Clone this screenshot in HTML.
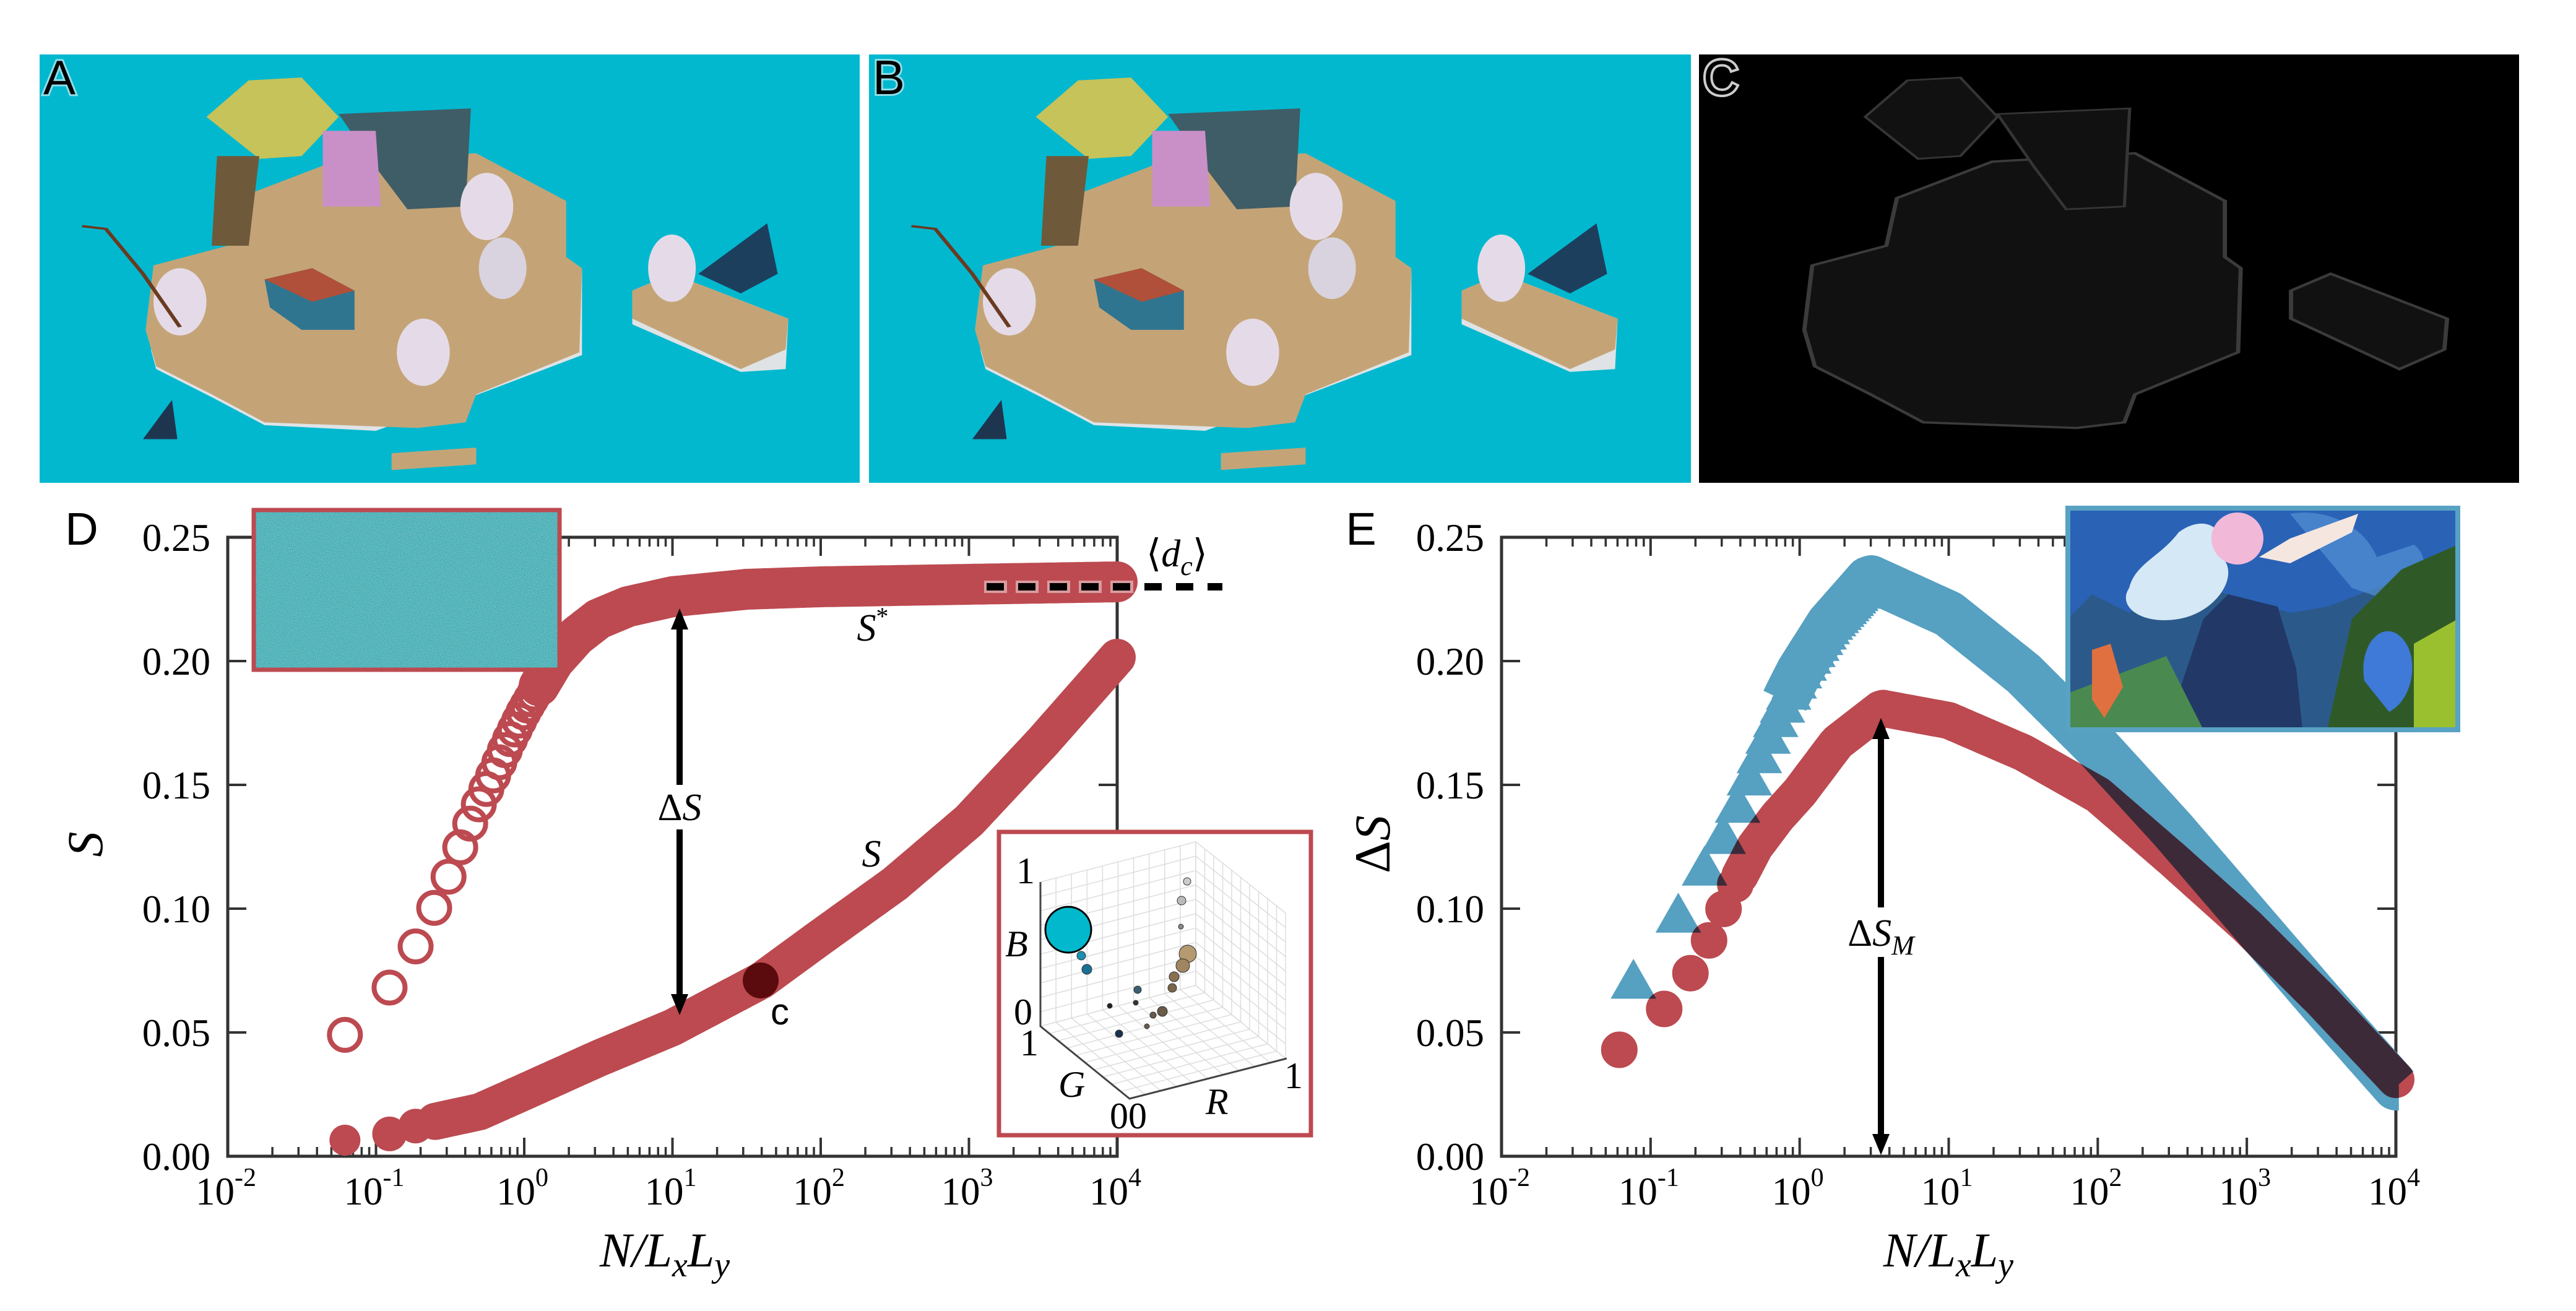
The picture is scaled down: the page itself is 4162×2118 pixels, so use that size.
<!DOCTYPE html>
<html><head><meta charset="utf-8">
<style>
html,body{margin:0;padding:0;background:#fff;}
svg{display:block;}
.tk{font-family:"Liberation Serif",serif;font-size:63px;fill:#000;}
.it{font-family:"Liberation Serif",serif;font-style:italic;fill:#000;}
.sans{font-family:"Liberation Sans",sans-serif;fill:#000;}
</style></head>
<body>
<svg id="s" xmlns="http://www.w3.org/2000/svg" width="4162" height="2118" viewBox="0 0 4162 2118">
<defs>
<filter id="nz" x="0" y="0" width="100%" height="100%">
<feTurbulence type="fractalNoise" baseFrequency="1.2" numOctaves="1" seed="3"/>
<feColorMatrix type="matrix" values="0 0 0 0 0.55  0 0 0 0 0.6  0 0 0 0 0.5  0 0 0 -2.5 1.6"/>
</filter>
</defs>
<!-- Panel A -->
<rect x="64" y="88" width="1325" height="692" fill="#02b8cf"/>
<g id="scene" transform="translate(60,80) scale(0.8547,0.4529)">
<polygon points="215,1070 225,1140 330,1240 430,1340 640,1360 820,1240 1030,1090 1030,790 950,740" fill="#dfe3e6"/>
<polygon points="205,1000 220,770 360,700 380,530 560,400 830,370 1000,540 1000,740 1030,780 1025,1080 830,1230 810,1330 720,1350 430,1330 330,1230 225,1130" fill="#c4a477"/>
<polygon points="1125,860 1200,800 1420,960 1415,1140 1330,1150 1125,980" fill="#dfe3e6"/>
<polygon points="1125,860 1200,800 1420,960 1415,1070 1330,1140 1125,960" fill="#c4a477"/>
<polygon points="320,240 400,110 500,100 570,240 500,380 420,390" fill="#c6c35a"/>
<polygon points="340,380 420,380 400,700 330,700" fill="#6e5a3a"/>
<polygon points="570,230 820,210 810,560 700,570 640,420" fill="#3f5d66"/>
<polygon points="430,820 520,780 600,860 600,1000 500,1000 440,920" fill="#2f7590"/>
<polygon points="430,820 520,780 600,860 520,900" fill="#b0503a"/>
<polygon points="540,290 640,290 650,560 540,560" fill="#c990c8"/>
<ellipse cx="850" cy="560" rx="50" ry="120" fill="#e5dbe8"/>
<ellipse cx="270" cy="900" rx="50" ry="120" fill="#e5dbe8"/>
<ellipse cx="730" cy="1080" rx="50" ry="120" fill="#e5dbe8"/>
<ellipse cx="880" cy="780" rx="45" ry="110" fill="#d9d3e0"/>
<ellipse cx="1200" cy="780" rx="45" ry="120" fill="#e5dbe8"/>
<polygon points="1250,800 1380,620 1400,800 1330,870" fill="#1d3f5e"/>
<polygon points="200,1390 255,1250 265,1390" fill="#1e3550"/>
<polygon points="670,1440 830,1420 830,1480 670,1500" fill="#c4a477"/>
<polyline points="85,630 130,640 200,800 270,990" fill="none" stroke="#6a3a20" stroke-width="8"/>
</g>
<text x="70" y="152" class="sans" font-size="78" stroke="#8fdde8" stroke-width="6" paint-order="stroke">A</text>
<!-- Panel B -->
<rect x="1404" y="88" width="1328" height="692" fill="#02b8cf"/>
<g transform="translate(1340,0)"><use href="#scene"/></g>
<text x="1410" y="152" class="sans" font-size="78" stroke="#8fdde8" stroke-width="6" paint-order="stroke">B</text>
<!-- Panel C -->
<rect x="2745" y="88" width="1325" height="692" fill="#000"/>
<g transform="translate(2680,0)" opacity="0.35"><g transform="translate(60,80) scale(0.8547,0.4529)">
<polygon points="205,1000 220,770 360,700 380,530 560,400 830,370 1000,540 1000,740 1030,780 1025,1080 830,1230 810,1330 720,1350 430,1330 330,1230 225,1130" fill="#333" stroke="#aaa" stroke-width="8"/>
<polygon points="1125,860 1200,800 1420,960 1415,1070 1330,1140 1125,960" fill="#333" stroke="#aaa" stroke-width="8"/>
<polygon points="320,240 400,110 500,100 570,240 500,380 420,390" fill="#333" stroke="#999" stroke-width="6"/>
<polygon points="570,230 820,210 810,560 700,570 640,420" fill="#333" stroke="#999" stroke-width="6"/>
</g></g>
<text x="2752" y="152" class="sans" font-size="78" fill="#000" stroke="#ccc" stroke-width="8" paint-order="stroke">C</text>
<g id="plots"></g>
</svg>
<script>
(function(){
var root=document.getElementById("plots");
var out=[];
function interp(t,x){if(x<=t[0][0])return t[0][1];for(var i=1;i<t.length;i++){if(x<=t[i][0]){var a=t[i-1],b=t[i];return a[1]+(b[1]-a[1])*(x-a[0])/(b[0]-a[0]);}}return t[t.length-1][1];}
var RED="#bc4a50",BLUE="#56a0c2",DARK="#3d2a39";
var DL=368,DR=1805,T=868,B=1868;
function XD(l){return DL+(l+2)*(DR-DL)/6;}
function Y(s){return B-s*4000;}
function axes(L,R){
 var s='';
 for(var d=-2;d<=4;d++){
  var x=L+(d+2)*(R-L)/6;
  s+='<line x1="'+x+'" y1="'+B+'" x2="'+x+'" y2="'+(B-30)+'" stroke="#333" stroke-width="4"/>';
  s+='<line x1="'+x+'" y1="'+T+'" x2="'+x+'" y2="'+(T+30)+'" stroke="#333" stroke-width="4"/>';
  if(d<4)for(var m=2;m<=9;m++){var xm=x+Math.log10(m)*(R-L)/6;
   s+='<line x1="'+xm+'" y1="'+B+'" x2="'+xm+'" y2="'+(B-15)+'" stroke="#333" stroke-width="3.5"/>';
   s+='<line x1="'+xm+'" y1="'+T+'" x2="'+xm+'" y2="'+(T+15)+'" stroke="#333" stroke-width="3.5"/>';}
  s+='<text class="tk" x="'+(x-3)+'" y="1946" text-anchor="middle">10<tspan font-size="42" dy="-30">'+(d<0?'-'+(-d):d)+'</tspan></text>';
 }
 for(var i=0;i<=5;i++){var y=B-i*200;
  s+='<line x1="'+L+'" y1="'+y+'" x2="'+(L+30)+'" y2="'+y+'" stroke="#333" stroke-width="4"/>';
  s+='<line x1="'+R+'" y1="'+y+'" x2="'+(R-30)+'" y2="'+y+'" stroke="#333" stroke-width="4"/>';
  s+='<text class="tk" x="'+(L-28)+'" y="'+(y+22)+'" text-anchor="end">'+(i*0.05).toFixed(2)+'</text>';}
 s+='<rect x="'+L+'" y="'+T+'" width="'+(R-L)+'" height="'+(B-T)+'" fill="none" stroke="#333" stroke-width="5"/>';
 return s;
}
out.push(axes(DL,DR));
var SS=[[-1.21,0.049],[-0.91,0.068],[-0.73,0.085],[-0.61,0.10],[-0.51,0.113],[-0.43,0.125],[-0.36,0.135],[-0.3,0.143],[-0.2,0.155],[-0.1,0.168],[0,0.18],[0.1,0.19],[0.2,0.2],[0.35,0.21],[0.5,0.217],[0.7,0.222],[1,0.226],[1.5,0.229],[2,0.23],[3,0.231],[4,0.232]];
var S=[[-1.21,0.0065],[-0.91,0.009],[-0.7,0.0128],[-0.3,0.018],[0,0.026],[0.5,0.0395],[1,0.052],[1.6,0.071],[2,0.0885],[2.5,0.11],[3,0.1355],[3.5,0.1675],[4,0.2015]];
var g='';
for(var k=1;k<=120;k++){var l=Math.log10(k*0.0617);if(l>0.35)break;
 g+='<circle cx="'+XD(l).toFixed(1)+'" cy="'+Y(interp(SS,l)).toFixed(1)+'" r="25" fill="none" stroke="'+RED+'" stroke-width="8"/>';}
function band(tab,l0,l1,X){var p='';for(var l=l0;l<=l1+1e-9;l+=0.02){p+=(p?'L':'M')+X(l).toFixed(1)+','+Y(interp(tab,l)).toFixed(1);}return p;}
g+='<path d="'+band(SS,0.1,4,XD)+'" fill="none" stroke="'+RED+'" stroke-width="66" stroke-linecap="round" stroke-linejoin="round"/>';
for(var k=1;k<=40;k++){var l=Math.log10(k*0.0617);
 g+='<circle cx="'+XD(l).toFixed(1)+'" cy="'+Y(interp(S,l)).toFixed(1)+'" r="'+(k==1?25:28)+'" fill="'+RED+'"/>';}
g+='<path d="'+band(S,-0.6,4,XD)+'" fill="none" stroke="'+RED+'" stroke-width="60" stroke-linecap="round" stroke-linejoin="round"/>';
out.push(g);
out.push('<circle cx="1229" cy="1584" r="29" fill="#5b0b0e"/>');
out.push('<text x="1245" y="1655" class="sans" font-size="60">c</text>');
out.push('<line x1="1590" y1="948" x2="1975" y2="948" stroke="#fff" stroke-opacity="0.45" stroke-width="20" stroke-dasharray="37,14"/>');
out.push('<line x1="1594" y1="948" x2="1975" y2="948" stroke="#000" stroke-width="12" stroke-dasharray="28,23"/>');
out.push('<text x="1852" y="915" class="it" font-size="62"><tspan font-style="normal">⟨</tspan>d<tspan font-size="44" dy="14">c</tspan><tspan font-style="normal" dy="-14">⟩</tspan></text>');
function arrow(x,y1,y2,gap1,gap2){
 return '<line x1="'+x+'" y1="'+(y1+24)+'" x2="'+x+'" y2="'+gap1+'" stroke="#000" stroke-width="10"/>'+
 '<line x1="'+x+'" y1="'+gap2+'" x2="'+x+'" y2="'+(y2-24)+'" stroke="#000" stroke-width="10"/>'+
 '<polygon points="'+x+','+y1+' '+(x-14)+','+(y1+34)+' '+(x+14)+','+(y1+34)+'" fill="#000"/>'+
 '<polygon points="'+x+','+y2+' '+(x-14)+','+(y2-34)+' '+(x+14)+','+(y2-34)+'" fill="#000"/>';}
out.push(arrow(1098,983,1640,1268,1340));
out.push('<text x="1098" y="1325" class="it" font-size="62" text-anchor="middle"><tspan font-style="normal">Δ</tspan>S</text>');
out.push('<text x="1410" y="1035" class="it" font-size="62" text-anchor="middle">S<tspan font-size="40" dy="-26" font-style="normal">*</tspan></text>');
out.push('<text x="1408" y="1400" class="it" font-size="62" text-anchor="middle">S</text>');
out.push('<rect x="410" y="824" width="494" height="258" fill="#1aa9bb"/>');
out.push('<rect x="410" y="824" width="494" height="258" filter="url(#nz)"/>');
out.push('<rect x="410" y="824" width="494" height="258" fill="none" stroke="'+RED+'" stroke-width="7"/>');
var q='<rect x="1614" y="1344" width="504" height="490" fill="#fff" stroke="'+RED+'" stroke-width="7"/>';
for(var i=0;i<=10;i++){var t=i/10;
 var xa=1681+t*(1932-1681), ya=1425+t*(1360-1425), yb=1658+t*(1592-1658);
 q+='<line x1="'+xa+'" y1="'+ya+'" x2="'+xa+'" y2="'+yb+'" stroke="#ddd" stroke-width="1.5"/>';
 var yy1=1425+t*(1658-1425), yy2=1360+t*(1592-1360);
 q+='<line x1="1681" y1="'+yy1+'" x2="1932" y2="'+yy2+'" stroke="#ddd" stroke-width="1.5"/>';
 var xr=1932+t*145, yr1=1360+t*115, yr2=1592+t*118;
 q+='<line x1="'+xr+'" y1="'+yr1+'" x2="'+xr+'" y2="'+yr2+'" stroke="#ddd" stroke-width="1.5"/>';
 q+='<line x1="1932" y1="'+(1360+t*232)+'" x2="2077" y2="'+(1475+t*235)+'" stroke="#ddd" stroke-width="1.5"/>';
 q+='<line x1="'+(1681+t*144)+'" y1="'+(1658+t*117)+'" x2="'+(1932+t*145)+'" y2="'+(1592+t*118)+'" stroke="#ddd" stroke-width="1.5"/>';
 q+='<line x1="'+(1681+t*251)+'" y1="'+(1658-t*66)+'" x2="'+(1825+t*252)+'" y2="'+(1775-t*65)+'" stroke="#ddd" stroke-width="1.5"/>';
}
q+='<polyline points="1681,1425 1681,1658 1825,1775 2079,1710" fill="none" stroke="#444" stroke-width="3"/>';
q+='<circle cx="1726" cy="1502" r="37" fill="#02b8cc" stroke="#000" stroke-width="3"/>';
var dots=[[1747,1544,7,"#1a8fb0"],[1756,1566,8,"#1a6f95"],[1919,1541,14,"#b59970"],[1911,1560,11,"#a08560"],[1897,1578,8,"#8a7050"],[1894,1596,7,"#7a6548"],[1878,1634,8,"#6a5a48"],[1808,1670,6,"#1a3050"],[1838,1599,6,"#3a6070"],[1909,1455,7,"#bbb"],[1918,1424,6,"#ccc"],[1908,1497,4,"#888"],[1835,1620,4,"#333"],[1863,1640,5,"#6b5b4b"],[1793,1625,4,"#222"],[1853,1658,4,"#6b5b4b"]];
dots.forEach(function(d){q+='<circle cx="'+d[0]+'" cy="'+d[1]+'" r="'+d[2]+'" fill="'+d[3]+'" stroke="#333" stroke-width="1"/>';});
q+='<g class="it" font-size="60"><text x="1642" y="1427" font-style="normal">1</text><text x="1624" y="1545">B</text><text x="1638" y="1655" font-style="normal">0</text><text x="1648" y="1705" font-style="normal">1</text><text x="1710" y="1772">G</text><text x="1793" y="1823" font-style="normal">00</text><text x="1948" y="1800">R</text><text x="2075" y="1758" font-style="normal">1</text></g>';
out.push(q);
out.push('<text x="132" y="880" class="sans" font-size="74" text-anchor="middle">D</text>');
out.push('<text transform="translate(165,1364) rotate(-90)" class="it" font-size="82" text-anchor="middle">S</text>');
out.push('<text x="1074" y="2046" class="it" font-size="78" text-anchor="middle">N/L<tspan font-size="56" dy="16">x</tspan><tspan dy="-16">L</tspan><tspan font-size="56" dy="16">y</tspan></text>');
var EL=2426,ER=3871;
function XE(l){return EL+(l+2)*(ER-EL)/6;}
out.push(axes(EL,ER));
var RE=[[-1.2,0.043],[-0.9,0.060],[-0.72,0.075],[-0.6,0.088],[-0.51,0.100],[-0.43,0.11],[-0.3,0.125],[-0.15,0.137],[0,0.147],[0.25,0.167],[0.55,0.181],[1,0.176],[1.5,0.163],[2,0.146],[2.5,0.12],[3,0.093],[3.5,0.063],[4,0.031]];
var BE=[[-1.115,0.0705],[-0.816,0.097],[-0.64,0.116],[-0.513,0.129],[-0.405,0.143],[-0.32,0.155],[-0.252,0.164],[-0.186,0.173],[-0.131,0.18],[-0.076,0.187],[0,0.196],[0.2,0.215],[0.47,0.2335],[1,0.219],[1.5,0.195],[2,0.165],[2.5,0.132],[3,0.097],[3.5,0.062],[4,0.028]];
var bl='',rd='';
for(var k=1;k<=40;k++){var l=Math.log10(k*0.0767);var x=XE(l),y=Y(interp(BE,l));
 bl+='<polygon points="'+x.toFixed(1)+','+(y-36).toFixed(1)+' '+(x-36).toFixed(1)+','+(y+27).toFixed(1)+' '+(x+36).toFixed(1)+','+(y+27).toFixed(1)+'"/>';}
bl+='<path d="'+band(BE,-0.1,4.02,XE)+'" fill="none" stroke-width="76" stroke-linejoin="round"/>';
for(var k=1;k<=40;k++){var l=Math.log10(k*0.0617);
 rd+='<circle cx="'+XE(l).toFixed(1)+'" cy="'+Y(interp(RE,l)).toFixed(1)+'" r="29"/>';}
rd+='<path d="'+band(RE,-0.4,4,XE)+'" fill="none" stroke-width="60" stroke-linecap="round" stroke-linejoin="round"/>';
out.push('<defs><g id="bl">'+bl+'</g><g id="rd">'+rd+'</g><mask id="mk" maskUnits="userSpaceOnUse" x="0" y="0" width="4162" height="2118"><g fill="#fff" stroke="#fff"><use href="#bl"/></g></mask></defs>');
out.push('<g fill="'+BLUE+'" stroke="'+BLUE+'"><use href="#bl"/></g>');
out.push('<g fill="'+RED+'" stroke="'+RED+'"><use href="#rd"/></g>');
out.push('<g fill="'+DARK+'" stroke="'+DARK+'" mask="url(#mk)"><use href="#rd"/></g>');
out.push(arrow(3039,1160,1866,1466,1546));
out.push('<text x="3039" y="1528" class="it" font-size="62" text-anchor="middle"><tspan font-style="normal">Δ</tspan>S<tspan font-size="44" dy="14">M</tspan></text>');
var p='<rect x="3341" y="821" width="630" height="358" fill="#2a62b6"/>';
p+='<polygon points="3341,1000 3380,960 3440,990 3520,940 3600,960 3700,990 3760,980 3971,900 3971,1179 3341,1179" fill="#2b5a8a"/>';
p+='<path d="M3520,860 C3560,830 3600,850 3590,900 C3620,930 3580,990 3520,1000 C3460,1010 3420,980 3440,950 C3450,910 3490,900 3520,860Z" fill="#d5e8f5"/>';
p+='<path d="M3700,830 C3760,820 3820,850 3840,900 L3900,880 C3930,900 3920,960 3860,970 L3800,950Z" fill="#5a9ad8" opacity="0.6"/>';
p+='<polygon points="3560,1000 3600,960 3680,980 3710,1080 3720,1179 3500,1179" fill="#223866"/>';
p+='<circle cx="3615" cy="870" r="42" fill="#f2b8d8"/>';
p+='<polygon points="3650,900 3700,870 3810,830 3800,860 3700,910" fill="#f5e6e0"/>';
p+='<polygon points="3341,1120 3500,1060 3560,1179 3341,1179" fill="#4a8a50"/>';
p+='<polygon points="3800,1000 3880,920 3971,880 3971,1179 3760,1179" fill="#2f5a28"/>';
p+='<path d="M3820,1100 C3810,1040 3850,1000 3880,1030 C3910,1060 3900,1130 3860,1150Z" fill="#3f7ad8"/>';
p+='<polygon points="3900,1040 3971,1000 3971,1179 3900,1179" fill="#9ac030"/>';
p+='<polygon points="3380,1050 3410,1040 3430,1110 3400,1160 3380,1130" fill="#e07040"/>';
p+='<rect x="3341" y="821" width="630" height="358" fill="none" stroke="#58a2c4" stroke-width="8"/>';
out.push(p);
out.push('<text x="2199" y="880" class="sans" font-size="74" text-anchor="middle">E</text>');
out.push('<text transform="translate(2245,1364) rotate(-90)" class="it" font-size="82" text-anchor="middle"><tspan font-style="normal">Δ</tspan>S</text>');
out.push('<text x="3148" y="2046" class="it" font-size="78" text-anchor="middle">N/L<tspan font-size="56" dy="16">x</tspan><tspan dy="-16">L</tspan><tspan font-size="56" dy="16">y</tspan></text>');
root.innerHTML=out.join('');
})();
</script>
</body></html>
